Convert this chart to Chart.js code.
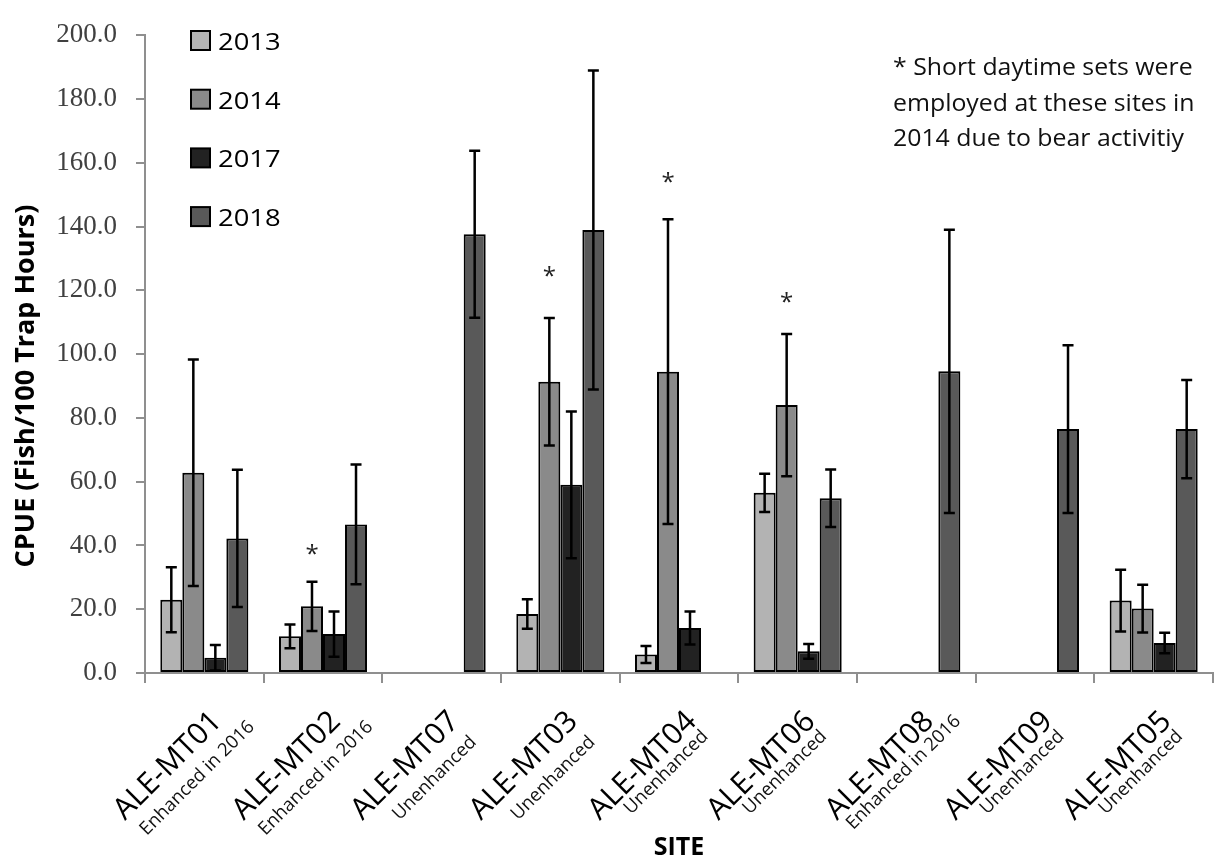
<!DOCTYPE html>
<html lang="en">
<head>
<meta charset="UTF-8">
<title>CPUE by Site</title>
<script src="https://cdn.jsdelivr.net/npm/chart.js"></script>
<style>
  body { margin: 0; background: #ffffff; }
  #wrap { width: 1221px; height: 861px; }
</style>
</head>
<body>
<div id="wrap"><canvas id="cpueChart" width="1221" height="861"></canvas></div>
<script>
// sites along the x axis and the note under each one
const sites = ['ALE-MT01', 'ALE-MT02', 'ALE-MT07', 'ALE-MT03', 'ALE-MT04', 'ALE-MT06', 'ALE-MT08', 'ALE-MT09', 'ALE-MT05'];
const siteNotes = ['Enhanced in 2016', 'Enhanced in 2016', 'Unenhanced', 'Unenhanced', 'Unenhanced', 'Unenhanced', 'Enhanced in 2016', 'Unenhanced', 'Unenhanced'];

const years = ['2013', '2014', '2017', '2018'];

// CPUE (fish / 100 trap hours) and error bar half-widths
const cpue2013 = [23.0, 11.5, null, 18.5, 5.8, 56.5, null, null, 22.7];
const err2013  = [10.2, 3.7, null, 4.6, 2.7, 6.0, null, null, 9.7];
const cpue2014 = [62.8, 20.9, null, 91.3, 94.5, 84.0, null, null, 20.2];
const err2014  = [35.5, 7.7, null, 20.0, 47.8, 22.3, null, null, 7.5];
const cpue2017 = [4.8, 12.2, null, 59.0, 14.1, 6.8, null, null, 9.4];
const err2017  = [4.0, 7.1, null, 23.0, 5.2, 2.3, null, null, 3.2];
const cpue2018 = [42.2, 46.6, 137.6, 138.9, null, 54.8, 94.6, 76.5, 76.5];
const err2018  = [21.5, 18.8, 26.2, 50.0, null, 9.0, 44.4, 26.3, 15.4];

// 2014 sites marked with an asterisk, and the level (in CPUE units) of each mark
const starredSites = ['ALE-MT02', 'ALE-MT03', 'ALE-MT04', 'ALE-MT06'];
const starLevels = [36.5, 123.4, 152.9, 115.4];

const yMin = 0, yMax = 200, yStep = 20;

const noteLines = ['* Short daytime sets were', 'employed at these sites in', '2014 due to bear activitiy'];
const yTitle = 'CPUE (Fish/100 Trap Hours)';
const xTitle = 'SITE';

const colors = ['#b3b3b3', '#8a8a8a', '#222222', '#595959'];
const sans = '"Open Sans", sans-serif';

const seriesValues = [cpue2013, cpue2014, cpue2017, cpue2018];
const seriesErrors = [err2013, err2014, err2017, err2018];

const datasets = years.map((yr, d) => ({
    label: yr,
    data: seriesValues[d],
    errors: seriesErrors[d],
    backgroundColor: colors[d],
    borderColor: '#000000',
    borderWidth: 2,
    borderSkipped: false,
    categoryPercentage: 0.742,
    barPercentage: 1.0
}));

// text that is a little wider than the font, like the original
function wideText(ctx, text, x, y, sx) {
    ctx.save();
    ctx.translate(x, y);
    ctx.scale(sx, 1);
    ctx.fillText(text, 0, 0);
    ctx.restore();
}

// error bars plus the asterisks over 2014
const errorBarPlugin = {
    id: 'errorBars',
    afterDatasetsDraw(chart) {
        const ctx = chart.ctx;
        const y = chart.scales.y;
        ctx.save();
        ctx.strokeStyle = '#000';
        ctx.lineWidth = 2.5;
        chart.data.datasets.forEach((ds, d) => {
            const meta = chart.getDatasetMeta(d);
            ds.data.forEach((v, i) => {
                if (v === null) return;
                const e = ds.errors[i];
                const x = meta.data[i].x;
                const top = y.getPixelForValue(v + e);
                const bot = y.getPixelForValue(Math.max(0, v - e));
                ctx.beginPath();
                ctx.moveTo(x, top); ctx.lineTo(x, bot);
                ctx.moveTo(x - 5.5, top); ctx.lineTo(x + 5.5, top);
                ctx.moveTo(x - 5.5, bot); ctx.lineTo(x + 5.5, bot);
                ctx.stroke();
            });
        });
        const meta14 = chart.getDatasetMeta(1);
        ctx.fillStyle = '#222';
        ctx.font = '24px ' + sans;
        ctx.textAlign = 'center';
        ctx.textBaseline = 'alphabetic';
        starredSites.forEach((s, k) => {
            const i = sites.indexOf(s);
            const x = meta14.data[i].x;
            ctx.fillText('*', x, y.getPixelForValue(starLevels[k]) + 5);
        });
        ctx.restore();
    }
};

// legend, note, axis titles and two-line site labels
const decorPlugin = {
    id: 'decor',
    afterDraw(chart) {
        const ctx = chart.ctx;
        const xs = chart.scales.x;
        const area = chart.chartArea;
        ctx.save();
        ctx.textBaseline = 'alphabetic';

        // legend
        ctx.font = '24px ' + sans;
        ctx.textAlign = 'left';
        years.forEach((yr, d) => {
            const base = 50 + d * 58.7;
            ctx.fillStyle = colors[d];
            ctx.fillRect(191, base - 19, 19, 19);
            ctx.strokeStyle = '#000';
            ctx.lineWidth = 2;
            ctx.strokeRect(191, base - 19, 19, 19);
            ctx.fillStyle = '#000';
            wideText(ctx, yr, 218, base, 1.14);
        });

        // note
        ctx.font = '23px ' + sans;
        ctx.fillStyle = '#111';
        noteLines.forEach((t, k) => wideText(ctx, t, 893, 75 + k * 35.5, 1.08));

        // y title
        ctx.font = 'bold 27px ' + sans;
        ctx.fillStyle = '#000';
        ctx.save();
        ctx.translate(34, 386);
        ctx.rotate(-Math.PI / 2);
        ctx.textAlign = 'center';
        ctx.fillText(yTitle, 0, 0);
        ctx.restore();

        // x title
        ctx.textAlign = 'center';
        ctx.font = 'bold 25px ' + sans;
        ctx.fillText(xTitle, (area.left + area.right) / 2, 855);

        // site labels, rotated 45 degrees, name over note
        sites.forEach((s, i) => {
            const cx = xs.getPixelForValue(i);
            ctx.save();
            ctx.translate(cx + 4, 708);
            ctx.rotate(-Math.PI / 4);
            ctx.font = '30px ' + sans;
            const w1 = ctx.measureText(s).width;
            ctx.textAlign = 'right';
            ctx.fillStyle = '#000';
            ctx.fillText(s, 0, 21);
            ctx.font = '18.5px ' + sans;
            ctx.textAlign = 'center';
            ctx.fillStyle = '#111';
            const gap = i < 4 ? 26 : 18;
            ctx.fillText(siteNotes[i], -w1 / 2 + 12, 21 + gap);
            ctx.restore();
        });

        ctx.restore();
    }
};

const chart = new Chart(document.getElementById('cpueChart'), {
    type: 'bar',
    data: { labels: sites, datasets: datasets },
    options: {
        responsive: false,
        animation: false,
        layout: { padding: { top: 23, right: 8, left: 0, bottom: 0 } },
        plugins: { legend: { display: false }, tooltip: { enabled: false } },
        scales: {
            x: {
                grid: { display: true, drawOnChartArea: false, offset: true, tickLength: 10, color: '#8f8f8f', lineWidth: 2 },
                border: { display: true, color: '#8f8f8f', width: 2 },
                ticks: { display: false },
                afterFit(scale) { scale.height = 188; }
            },
            y: {
                min: yMin,
                max: yMax,
                grid: { display: true, drawOnChartArea: false, tickLength: 9, color: '#8f8f8f', lineWidth: 2 },
                border: { display: true, color: '#8f8f8f', width: 2 },
                ticks: {
                    stepSize: yStep,
                    padding: 19,
                    color: '#404040',
                    font: { family: '"Liberation Serif", serif', size: 27 },
                    callback: v => v.toFixed(1)
                },
                afterFit(scale) { scale.width = 145; }
            }
        }
    },
    plugins: [errorBarPlugin, decorPlugin]
});
</script>
</body>
</html>
